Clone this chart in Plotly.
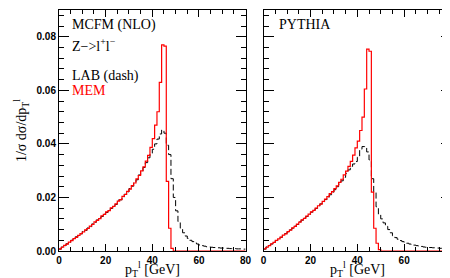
import plotly.graph_objects as go

# bin edges (GeV), 1 GeV bins from 0 to 80
edges = list(range(0, 81))

# MCFM (NLO) panel
mcfm_mem = [0.0008, 0.0014, 0.0021, 0.0026, 0.0033, 0.0039, 0.0046, 0.0051, 0.0058, 0.0065,
            0.0071, 0.0079, 0.0084, 0.0093, 0.0099, 0.0109, 0.0114, 0.0121, 0.0131, 0.0137,
            0.0146, 0.0151, 0.0161, 0.0167, 0.0176, 0.0186, 0.0192, 0.0204, 0.0211, 0.0223,
            0.0231, 0.0244, 0.0254, 0.0269, 0.0282, 0.0299, 0.0314, 0.0336, 0.0357, 0.0387,
            0.0420, 0.0470, 0.0520, 0.0630, 0.0770, 0.0765, 0.0260, 0.0085, 0.0010, 0.0,
            0.0, 0.0, 0.0, 0.0, 0.0, 0.0, 0.0, 0.0, 0.0, 0.0,
            0.0, 0.0, 0.0, 0.0, 0.0, 0.0, 0.0, 0.0, 0.0, 0.0,
            0.0, 0.0, 0.0, 0.0, 0.0, 0.0, 0.0, 0.0, 0.0, 0.0]
mcfm_lab = [0.0007, 0.0015, 0.0020, 0.0027, 0.0032, 0.0040, 0.0045, 0.0053, 0.0057, 0.0064,
            0.0073, 0.0077, 0.0086, 0.0091, 0.0101, 0.0107, 0.0116, 0.0123, 0.0129, 0.0139,
            0.0144, 0.0153, 0.0159, 0.0169, 0.0174, 0.0190, 0.0191, 0.0202, 0.0212, 0.0221,
            0.0233, 0.0242, 0.0256, 0.0266, 0.0284, 0.0296, 0.0312, 0.0330, 0.0348, 0.0365,
            0.0380, 0.0400, 0.0418, 0.0437, 0.0452, 0.0440, 0.0395, 0.0360, 0.0270, 0.0200,
            0.0150, 0.0110, 0.0085, 0.0068, 0.0056, 0.0047, 0.0040, 0.0035, 0.0030, 0.0026,
            0.0022, 0.0020, 0.0018, 0.0016, 0.0015, 0.0014, 0.0013, 0.0012, 0.0012, 0.0011,
            0.0011, 0.0010, 0.0010, 0.0009, 0.0009, 0.0009, 0.0008, 0.0008, 0.0008, 0.0007]

# PYTHIA panel
pythia_mem = [0.0008, 0.0014, 0.0020, 0.0027, 0.0032, 0.0040, 0.0045, 0.0052, 0.0059, 0.0064,
              0.0072, 0.0078, 0.0086, 0.0092, 0.0100, 0.0108, 0.0116, 0.0122, 0.0130, 0.0138,
              0.0146, 0.0152, 0.0160, 0.0169, 0.0175, 0.0185, 0.0194, 0.0203, 0.0214, 0.0222,
              0.0233, 0.0243, 0.0256, 0.0268, 0.0284, 0.0298, 0.0316, 0.0335, 0.0358, 0.0385,
              0.0410, 0.0450, 0.0500, 0.0605, 0.0754, 0.0746, 0.0220, 0.0085, 0.0029, 0.0005,
              0.0, 0.0, 0.0, 0.0, 0.0, 0.0, 0.0, 0.0, 0.0, 0.0,
              0.0, 0.0, 0.0, 0.0, 0.0, 0.0, 0.0, 0.0, 0.0, 0.0,
              0.0, 0.0, 0.0, 0.0, 0.0, 0.0, 0.0, 0.0, 0.0, 0.0]
pythia_lab = [0.0007, 0.0015, 0.0021, 0.0026, 0.0033, 0.0039, 0.0046, 0.0051, 0.0058, 0.0065,
              0.0071, 0.0079, 0.0085, 0.0093, 0.0099, 0.0109, 0.0115, 0.0123, 0.0129, 0.0137,
              0.0145, 0.0153, 0.0159, 0.0168, 0.0176, 0.0184, 0.0192, 0.0201, 0.0210, 0.0220,
              0.0229, 0.0240, 0.0250, 0.0262, 0.0275, 0.0290, 0.0303, 0.0316, 0.0325, 0.0334,
              0.0350, 0.0380, 0.0390, 0.0390, 0.0370, 0.0340, 0.0270, 0.0220, 0.0165, 0.0135,
              0.0120, 0.0105, 0.0092, 0.0080, 0.0068, 0.0057, 0.0050, 0.0044, 0.0039, 0.0035,
              0.0032, 0.0029, 0.0026, 0.0024, 0.0022, 0.0020, 0.0018, 0.0017, 0.0015, 0.0014,
              0.0013, 0.0013, 0.0012, 0.0011, 0.0011, 0.0010, 0.0010, 0.0010, 0.0009, 0.0009]

x_ticks = [0, 20, 40, 60, 80]
x_ticklabels = ["0", "20", "40", "60", "80"]
y_ticks = [0.00, 0.02, 0.04, 0.06, 0.08]
y_ticklabels = ["0.00", "0.02", "0.04", "0.06", "0.08"]

SERIF = "Liberation Serif"
SANS = "Liberation Sans"


def step_y(vals):
    return list(vals) + [vals[-1]]


def bold(labels):
    return ["<b>%s</b>" % t for t in labels]


fig = go.Figure()
panels = [("x", "y", mcfm_lab, mcfm_mem), ("x2", "y2", pythia_lab, pythia_mem)]
for xa, ya, lab, mem in panels:
    fig.add_trace(go.Scatter(x=edges, y=step_y(lab), xaxis=xa, yaxis=ya, mode="lines",
                             line=dict(color="black", width=1, dash="6px,3px", shape="hv"),
                             showlegend=False, hoverinfo="skip"))
    fig.add_trace(go.Scatter(x=edges, y=step_y(mem), xaxis=xa, yaxis=ya, mode="lines",
                             line=dict(color="#ff0000", width=1.2, shape="hv"),
                             showlegend=False, hoverinfo="skip"))

tickfont = dict(family=SANS, size=10, color="black")
xcommon = dict(range=[0, 80], tickvals=x_ticks, ticktext=bold(x_ticklabels), ticks="inside",
               ticklen=7, tickwidth=1,
               tickcolor="black", showline=True, linecolor="black", linewidth=1,
               mirror="ticks", showgrid=False, zeroline=False, tickfont=tickfont,
               minor=dict(dtick=5, tick0=0, ticks="inside", ticklen=4, tickcolor="black",
                          showgrid=False))
ycommon = dict(range=[0, 0.09], tickvals=y_ticks, ticktext=bold(y_ticklabels), ticks="inside",
               ticklen=10, tickwidth=1,
               tickcolor="black", showline=True, linecolor="black", linewidth=1,
               mirror="ticks", showgrid=False, zeroline=False,
               tickfont=tickfont,
               minor=dict(dtick=0.004, tick0=0, ticks="inside", ticklen=5, tickcolor="black",
                          showgrid=False))

fig.update_layout(
    width=450, height=278,
    margin=dict(l=51, r=2, t=1, b=35),
    paper_bgcolor="white", plot_bgcolor="white",
    font=dict(family=SERIF, color="black"),
    xaxis=dict(domain=[0, 0.476], anchor="y", **xcommon),
    yaxis=dict(domain=[0, 1], anchor="x", **ycommon),
    xaxis2=dict(domain=[0.522, 1], anchor="y2", **xcommon),
    yaxis2=dict(domain=[0, 1], anchor="x2", showticklabels=False, **ycommon),
)

ann_font = dict(family=SERIF, size=14, color="black")
anns = [
    dict(text="MCFM (NLO)", xref="x", yref="y", x=4.5, y=0.0845, xanchor="left", yanchor="middle", font=ann_font),
    dict(text="Z−>l<sup>+</sup>l<sup>−</sup>", xref="x", yref="y", x=4.5, y=0.077, xanchor="left", yanchor="middle", font=ann_font),
    dict(text="LAB (dash)", xref="x", yref="y", x=4.5, y=0.0655, xanchor="left", yanchor="middle", font=ann_font),
    dict(text="MEM", xref="x", yref="y", x=4.5, y=0.060, xanchor="left", yanchor="middle",
         font=dict(family=SERIF, size=14, color="#ff0000")),
    dict(text="PYTHIA", xref="x2", yref="y2", x=5.5, y=0.0845, xanchor="left", yanchor="middle", font=ann_font),
    dict(text="p<sub>T</sub><sup>l</sup> [GeV]", xref="x domain", yref="paper", x=0.5, y=-0.075,
         xanchor="center", yanchor="middle", font=dict(family=SERIF, size=14, color="black")),
    dict(text="p<sub>T</sub><sup>l</sup> [GeV]", xref="x2 domain", yref="paper", x=0.5, y=-0.075,
         xanchor="center", yanchor="middle", font=dict(family=SERIF, size=14, color="black")),
    dict(text="1/σ dσ/dp<sub>T</sub><sup>l</sup>", xref="paper", yref="paper", x=-0.098, y=0.5,
         xanchor="center", yanchor="middle", textangle=-90, font=dict(family=SERIF, size=14, color="black")),
]
for a in anns:
    fig.add_annotation(showarrow=False, **a)

fig.write_html("out.html")
